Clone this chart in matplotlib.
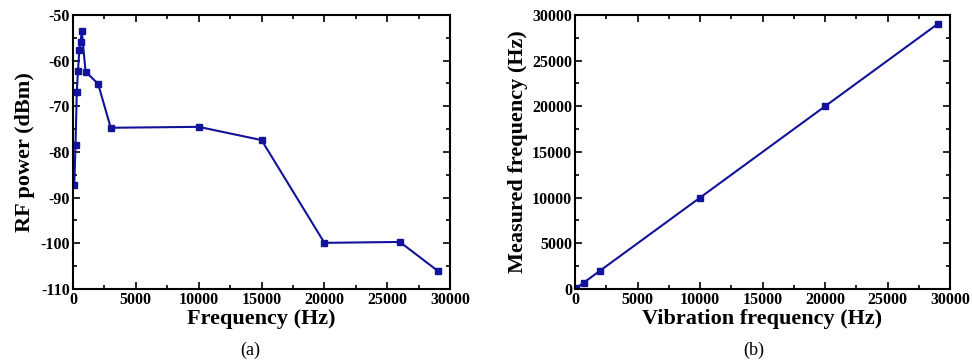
import matplotlib.pyplot as plt
from matplotlib.ticker import MultipleLocator

plt.rcParams['font.family'] = ['Liberation Serif', 'DejaVu Serif']
plt.rcParams['axes.unicode_minus'] = False

# (a) RF power vs frequency
freq_a = [100, 200, 300, 400, 500, 600, 700, 1000, 2000, 3000, 10000, 15000, 20000, 26000, 29000]
power_a = [-87.3, -78.5, -66.9, -62.2, -57.7, -55.9, -53.6, -62.4, -65.1, -74.7, -74.5, -77.4, -99.9, -99.7, -106.0]

# (b) measured vs vibration frequency
vib_b = [100, 700, 2000, 10000, 20000, 29000]
meas_b = [100, 700, 2000, 10000, 20000, 29000]

color = '#12129a'

fig = plt.figure(figsize=(9.72, 3.62), dpi=100)
ax1 = fig.add_axes([0.0751, 0.2017, 0.388, 0.757])
ax2 = fig.add_axes([0.5916, 0.2017, 0.3858, 0.757])

ax1.plot(freq_a, power_a, '-s', color=color, lw=1.5, ms=4.5)
ax1.set_xlim(0, 30000)
ax1.set_ylim(-110, -50)
ax1.xaxis.set_major_locator(MultipleLocator(5000))
ax1.xaxis.set_minor_locator(MultipleLocator(2500))
ax1.yaxis.set_major_locator(MultipleLocator(10))
ax1.yaxis.set_minor_locator(MultipleLocator(5))
ax1.set_xlabel('Frequency (Hz)', fontsize=16, fontweight='bold', labelpad=1)
ax1.set_ylabel('RF power (dBm)', fontsize=16, fontweight='bold', labelpad=4)

ax2.plot(vib_b, meas_b, '-s', color=color, lw=1.5, ms=4.5)
ax2.set_xlim(0, 30000)
ax2.set_ylim(0, 30000)
ax2.xaxis.set_major_locator(MultipleLocator(5000))
ax2.xaxis.set_minor_locator(MultipleLocator(2500))
ax2.yaxis.set_major_locator(MultipleLocator(5000))
ax2.yaxis.set_minor_locator(MultipleLocator(2500))
ax2.set_xlabel('Vibration frequency (Hz)', fontsize=16, fontweight='bold', labelpad=1)
ax2.set_ylabel('Measured frequency (Hz)', fontsize=16, fontweight='bold', labelpad=3)

for ax in (ax1, ax2):
    for s in ax.spines.values():
        s.set_linewidth(1.5)
    ax.tick_params(which='both', direction='in', top=True, right=True, width=1.2, labelsize=11.5, pad=2)
    ax.tick_params(which='major', length=5)
    ax.tick_params(which='minor', length=3)
    for lab in ax.get_xticklabels() + ax.get_yticklabels():
        lab.set_fontweight('bold')

fig.text(0.257, 0.02, '(a)', ha='center', fontsize=13)
fig.text(0.775, 0.02, '(b)', ha='center', fontsize=13)

fig.savefig('out.png', dpi=100)
